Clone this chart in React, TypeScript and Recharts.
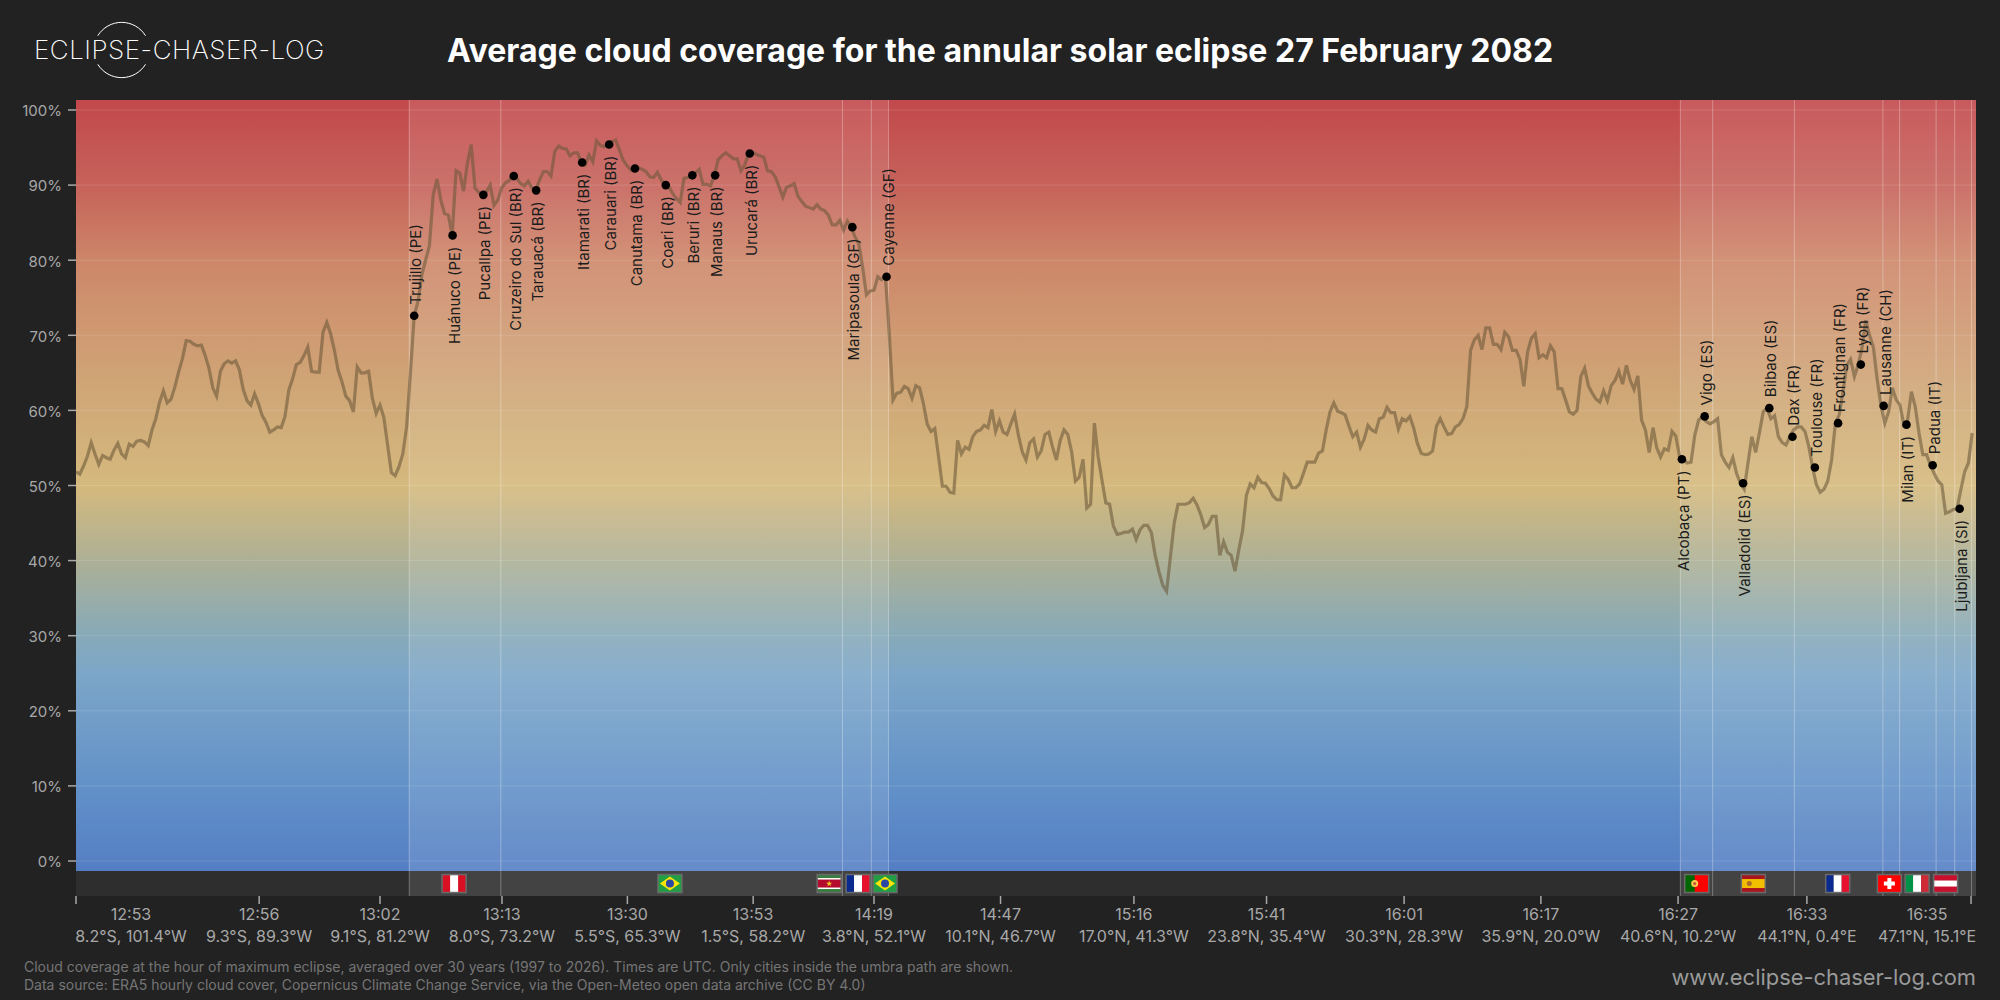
import {
  ComposedChart,
  Line,
  Scatter,
  XAxis,
  YAxis,
  ReferenceArea,
  ReferenceLine,
} from 'recharts';

// cloud cover in %, one reading every path sample, split by leg of the path
const pacificCover = [
  51.8, 51.5, 52.6, 53.9, 55.7, 54.2, 52.8, 54.0, 53.7, 53.5, 54.7, 55.6, 54.2, 53.7, 55.5, 55.2, 55.9, 56.0, 55.8, 55.3,
  57.4, 58.9, 61.1, 62.6, 61.0, 61.5, 63.1, 65.1, 66.9, 69.3, 69.2, 68.8, 68.6, 68.7, 67.3, 65.6, 63.0, 61.9, 65.2, 66.2,
  66.6, 66.3, 66.6, 65.4, 62.8, 61.3, 60.7, 62.2, 60.9, 59.3, 58.4, 57.1, 57.4, 57.8, 57.7, 59.2, 62.7, 64.2, 66.1, 66.4,
  67.3, 68.4, 65.2, 65.1, 65.1, 70.4, 71.7, 70.2, 68.0, 65.3, 63.8, 61.9, 61.3, 59.8, 65.8, 65.0, 65.0, 65.2, 61.6, 59.6,
  60.7, 59.1, 55.4, 51.7, 51.3, 52.5, 54.2, 57.8, 64.9,
];
const andesCover = [
  72.6, 74.5, 78.0, 80.0, 81.9, 88.7, 90.8, 88.0, 86.2, 86.0, 83.3, 91.9, 91.6, 89.2, 92.9, 95.4, 89.6, 89.0, 88.7, 89.1,
  90.0, 87.3,
];
const amazonCover = [
  88.0, 89.6, 90.3, 90.6, 91.2, 90.9, 90.2, 89.9, 90.5, 89.6, 89.3, 90.7, 91.8, 91.8, 91.2, 94.5, 95.2, 94.9, 94.8, 93.9,
  94.3, 94.3, 93.0, 92.7, 94.0, 93.1, 95.9, 95.3, 95.1, 95.4, 95.8, 96.0, 94.7, 93.3, 92.6, 92.0, 92.4, 92.3, 92.1, 91.8,
  91.1, 91.0, 91.7, 90.7, 90.0, 89.8, 88.9, 88.2, 87.7, 90.9, 91.0, 91.3, 91.6, 92.1, 90.1, 90.1, 89.9, 91.3, 93.4, 93.9,
  94.3, 93.9, 93.5, 93.5, 91.9, 92.7, 94.2, 94.4, 94.1, 93.9, 93.7, 91.9, 91.8, 91.1, 89.8, 88.4, 89.7, 89.9, 90.2, 88.5,
  87.8, 87.2, 87.0, 86.8, 87.4, 86.8, 86.6, 86.0, 84.7, 84.7, 85.3, 84.0, 85.2, 84.4, 83.1, 82.2, 79.1, 75.4, 75.9, 76.0,
  77.8, 77.4, 77.8,
];
const atlanticCover = [
  70.3, 61.4, 62.3, 62.4, 63.2, 62.9, 61.6, 63.3, 63.0, 60.9, 58.2, 57.2, 57.6, 53.8, 49.9, 49.9, 49.1, 49.0, 56.0, 54.2,
  55.1, 54.8, 56.5, 57.2, 57.4, 58.0, 57.7, 60.1, 57.2, 58.6, 57.1, 56.8, 58.2, 59.5, 56.7, 54.5, 53.4, 55.7, 56.2, 53.8,
  54.6, 56.8, 57.1, 55.1, 53.4, 56.0, 57.4, 56.8, 54.5, 50.6, 51.1, 53.5, 47.0, 47.5, 58.3, 53.8, 50.7, 47.7, 47.5, 44.6,
  43.5, 43.6, 43.8, 43.8, 44.2, 42.8, 44.1, 44.7, 44.7, 43.7, 40.7, 38.5, 36.7, 35.9, 40.5, 45.0, 47.5, 47.5, 47.5, 47.7,
  48.3, 47.4, 46.1, 44.4, 44.8, 45.9, 45.9, 40.7, 42.5, 41.1, 40.7, 38.6, 41.4, 44.0, 48.7, 50.2, 49.7, 51.1, 50.4, 50.3,
  49.6, 48.6, 48.1, 48.1, 51.4, 50.8, 49.7, 49.7, 50.2, 51.6, 53.1, 53.1, 53.1, 54.3, 54.6, 57.4, 59.8, 61.0, 59.9, 59.7,
  59.4, 57.9, 56.5, 57.1, 55.1, 56.2, 58.0, 57.4, 57.1, 58.9, 59.1, 60.4, 59.7, 59.7, 57.5, 58.9, 58.6, 59.2, 57.7, 55.6,
  54.3, 54.1, 54.2, 54.6, 57.9, 58.9, 57.8, 56.8, 56.9, 57.8,
];
const europeCover = [
  58.1, 58.9, 60.5, 68.0, 69.4, 70.0, 68.1, 71.0, 71.0, 68.8, 68.8, 68.1, 70.4, 69.8, 68.0, 68.0, 66.8, 63.2, 67.8, 69.6,
  70.2, 67.0, 67.4, 67.0, 68.6, 67.8, 62.9, 62.9, 61.4, 59.8, 59.5, 60.0, 64.5, 65.6, 63.3, 62.3, 61.5, 61.1, 62.6, 61.3,
  63.3, 64.0, 65.2, 63.5, 66.0, 64.0, 62.8, 64.6, 58.7, 57.4, 54.4, 57.7, 55.0, 53.8, 54.9, 54.7, 57.2, 56.6, 53.8, 53.5,
  53.0, 53.1, 56.7, 58.7, 59.2, 58.5, 58.2, 58.5, 58.9, 54.1, 53.1, 52.4, 53.7, 51.6, 50.3, 49.5, 53.0, 56.5, 54.4, 57.0,
  59.8, 60.3, 58.9, 59.3, 56.5, 55.7, 55.4, 56.5, 57.4, 57.8, 57.8, 57.2, 55.2, 52.4, 50.1, 49.1, 49.5, 50.6, 53.4, 58.3,
  59.4, 62.5, 66.0, 66.8, 64.5, 66.1, 68.3, 72.0, 70.0, 68.4, 64.1, 60.6, 58.3, 59.8, 63.0, 61.4, 60.7, 58.1, 58.7, 62.5,
  60.5, 57.0, 54.1, 54.1, 52.7, 51.6, 50.6, 50.1, 46.3, 46.5, 46.8, 46.9, 49.4, 51.8, 53.0, 57.0,
];

const cloudCover = [...pacificCover, ...andesCover, ...amazonCover, ...atlanticCover, ...europeCover];

const cityNames = [
  'Trujillo (PE)', 'Huánuco (PE)', 'Pucallpa (PE)', 'Cruzeiro do Sul (BR)', 'Tarauacá (BR)', 'Itamarati (BR)',
  'Carauari (BR)', 'Canutama (BR)', 'Coari (BR)', 'Beruri (BR)', 'Manaus (BR)', 'Urucará (BR)', 'Maripasoula (GF)',
  'Cayenne (GF)', 'Alcobaça (PT)', 'Vigo (ES)', 'Valladolid (ES)', 'Bilbao (ES)', 'Dax (FR)', 'Toulouse (FR)',
  'Frontignan (FR)', 'Lyon (FR)', 'Lausanne (CH)', 'Milan (IT)', 'Padua (IT)', 'Ljubljana (SI)',
];
const cityPathPos = [
  89.0, 99.1, 107.2, 115.2, 121.1, 133.2, 140.3, 147.1, 155.2, 162.2, 168.2, 177.3, 204.3, 213.3, 422.6, 428.6, 438.7,
  445.6, 451.7, 457.6, 463.7, 469.7, 475.7, 481.7, 488.6, 495.7,
];
const cityCover = [
  72.6, 83.3, 88.7, 91.2, 89.3, 93.0, 95.4, 92.2, 90.0, 91.3, 91.3, 94.2, 84.4, 77.8, 53.5, 59.2, 50.3, 60.3, 56.5, 52.4,
  58.3, 66.1, 60.6, 58.1, 52.7, 46.9,
];
const cityLabelUp = [
  true, false, false, false, false, false, false, false, false, false, false, false, false, true, false, true, false,
  true, true, true, true, true, true, false, true, false,
];

const flagCountries = ['PE', 'BR', 'SR', 'FR', 'BR', 'PT', 'ES', 'FR', 'CH', 'IT', 'AT'];
const flagPathPos = [99.5, 156.3, 198.2, 205.8, 212.9, 426.5, 441.4, 463.6, 477.2, 484.5, 492.0];

// where the umbra is over land, and the borders crossed
const landSpans = [[87.7, 213.8], [422.2, 500]];
const borderPos = [87.7, 111.8, 201.7, 209.3, 213.8, 422.2, 430.7, 452.2, 475.5, 479.9, 489.5, 494.4, 498.8];

const tickPos = [0, 48.2, 80, 112.1, 145.1, 178.2, 210, 243.3, 278.4, 313.3, 349.5, 385.5, 421.6, 455.5, 498.7];
const tickTimes = [
  '12:53', '12:56', '13:02', '13:13', '13:30', '13:53', '14:19', '14:47', '15:16', '15:41', '16:01', '16:17', '16:27',
  '16:33', '16:35',
];
const tickPlaces = [
  '8.2°S, 101.4°W', '9.3°S, 89.3°W', '9.1°S, 81.2°W', '8.0°S, 73.2°W', '5.5°S, 65.3°W', '1.5°S, 58.2°W', '3.8°N, 52.1°W',
  '10.1°N, 46.7°W', '17.0°N, 41.3°W', '23.8°N, 35.4°W', '30.3°N, 28.3°W', '35.9°N, 20.0°W', '40.6°N, 10.2°W',
  '44.1°N, 0.4°E', '47.1°N, 15.1°E',
];
const yTicks = [0, 10, 20, 30, 40, 50, 60, 70, 80, 90, 100];

const lineRows = cloudCover.map((cover, i) => ({ pos: i, cover }));
const cityRows = cityNames.map((name, i) => ({
  name,
  pos: cityPathPos[i],
  cover: cityCover[i],
  up: cityLabelUp[i],
}));
const flagRows = flagCountries.map((code, i) => ({ code, pos: flagPathPos[i], cover: -3 }));

const FONT = 'Inter, sans-serif';

function CityMark({ cx, cy, payload }: any) {
  const tx = cx + 1.5;
  const ty = payload.up ? cy - 11 : cy + 11;
  return (
    <g>
      <circle cx={cx} cy={cy} r={4.3} fill="#000" />
      <text
        x={tx}
        y={ty}
        transform={`rotate(-90 ${tx} ${ty})`}
        textAnchor={payload.up ? 'start' : 'end'}
        dominantBaseline="central"
        fontFamily={FONT}
        fontSize={15}
        fill="#1c1c1c"
      >
        {payload.name}
      </text>
    </g>
  );
}

function flagArt(code: string) {
  switch (code) {
    case 'PE':
      return (
        <>
          <rect width={24} height={18} fill="#d91023" />
          <rect x={8} width={8} height={18} fill="#fff" />
        </>
      );
    case 'BR':
      return (
        <>
          <rect width={24} height={18} fill="#229e45" />
          <polygon points="12,2 22,9 12,16 2,9" fill="#f8e509" />
          <circle cx={12} cy={9} r={4} fill="#2b49a3" />
        </>
      );
    case 'SR':
      return (
        <>
          <rect width={24} height={18} fill="#377e3f" />
          <rect y={3.5} width={24} height={11} fill="#fff" />
          <rect y={5} width={24} height={8} fill="#b40a2d" />
          <polygon points="12,6 12.8,8.2 15,8.2 13.2,9.6 13.9,11.8 12,10.4 10.1,11.8 10.8,9.6 9,8.2 11.2,8.2" fill="#ecc81d" />
        </>
      );
    case 'FR':
      return (
        <>
          <rect width={8} height={18} fill="#0a2a8f" />
          <rect x={8} width={8} height={18} fill="#fff" />
          <rect x={16} width={8} height={18} fill="#e8112d" />
        </>
      );
    case 'PT':
      return (
        <>
          <rect width={24} height={18} fill="#ff0000" />
          <rect width={10} height={18} fill="#006600" />
          <circle cx={10} cy={9} r={3.5} fill="#ffcc4d" />
          <circle cx={10} cy={9} r={1.6} fill="#c8553d" />
        </>
      );
    case 'ES':
      return (
        <>
          <rect width={24} height={18} fill="#aa151b" />
          <rect y={4.5} width={24} height={9} fill="#f1bf00" />
          <circle cx={8} cy={9} r={2.5} fill="#ad6b2b" />
        </>
      );
    case 'CH':
      return (
        <>
          <rect width={24} height={18} fill="#ff0000" />
          <rect x={10} y={3.5} width={4} height={11} fill="#fff" />
          <rect x={6.5} y={7} width={11} height={4} fill="#fff" />
        </>
      );
    case 'IT':
      return (
        <>
          <rect width={8} height={18} fill="#009246" />
          <rect x={8} width={8} height={18} fill="#fff" />
          <rect x={16} width={8} height={18} fill="#ce2b37" />
        </>
      );
    default:
      return (
        <>
          <rect width={24} height={18} fill="#c8102e" />
          <rect y={6} width={24} height={6} fill="#fff" />
        </>
      );
  }
}

function FlagMark({ cx, cy, payload }: any) {
  return (
    <g transform={`translate(${cx - 12} ${cy - 9})`}>
      {flagArt(payload.code)}
      <rect width={24} height={18} fill="none" stroke="#6a6a6a" strokeWidth={1.5} />
    </g>
  );
}

function PlaceTick({ x, y, index }: any) {
  // first and last labels are pushed inside the plot width
  const last = tickPos.length - 1;
  const shift = index === 0 ? 55 : index === last ? -44 : 0;
  return (
    <text x={x + shift} textAnchor="middle" fontFamily={FONT} fontSize={16} fill="#a8a8a8">
      <tspan x={x + shift} y={y + 14}>{tickTimes[index]}</tspan>
      <tspan x={x + shift} y={y + 36}>{tickPlaces[index]}</tspan>
    </text>
  );
}

function Logo() {
  return (
    <div style={{ position: 'absolute', left: 34, top: 20, width: 300, height: 60 }}>
      <svg width={300} height={60} style={{ position: 'absolute', left: 0, top: 0 }}>
        <path d="M63.8 15.7 A28 28 0 0 1 111.5 15.7" fill="none" stroke="#fff" strokeWidth={1} />
        <path d="M63.8 44.3 A28 28 0 0 0 111.5 44.3" fill="none" stroke="#fff" strokeWidth={1} />
      </svg>
      <div
        style={{
          position: 'absolute',
          left: 0,
          top: 14,
          fontFamily: FONT,
          fontWeight: 200,
          fontSize: 26,
          lineHeight: '32px',
          letterSpacing: 0.5,
          color: '#fff',
          whiteSpace: 'nowrap',
        }}
      >
        ECLIPSE-CHASER-LOG
      </div>
    </div>
  );
}

export default function App() {
  return (
    <div style={{ position: 'fixed', left: 0, top: 0, width: 2000, height: 1000, background: '#222222', overflow: 'hidden' }}>
      <Logo />
      <div
        style={{
          position: 'absolute',
          left: 0,
          top: 28,
          width: 2000,
          textAlign: 'center',
          fontFamily: FONT,
          fontWeight: 700,
          fontSize: 32,
          lineHeight: '46px',
          color: '#fff',
        }}
      >
        Average cloud coverage for the annular solar eclipse 27 February 2082
      </div>
      <ComposedChart
        width={2000}
        height={1000}
        data={lineRows}
        margin={{ top: 100, right: 24, bottom: 44, left: 0 }}
        style={{ position: 'absolute', left: 0, top: 0 }}
      >
        <defs>
          <linearGradient id="skyBand" x1="0" y1="0" x2="0" y2="1">
            <stop offset="0" stopColor="#c2484b" />
            <stop offset="0.11" stopColor="#c6625a" />
            <stop offset="0.207" stopColor="#cd8669" />
            <stop offset="0.305" stopColor="#cf9a72" />
            <stop offset="0.4" stopColor="#d0aa78" />
            <stop offset="0.5" stopColor="#d5b97d" />
            <stop offset="0.6" stopColor="#acb096" />
            <stop offset="0.695" stopColor="#87aab9" />
            <stop offset="0.743" stopColor="#7ca6c8" />
            <stop offset="0.89" stopColor="#6291c8" />
            <stop offset="1" stopColor="#547ec4" />
          </linearGradient>
        </defs>
        <XAxis
          dataKey="pos"
          type="number"
          domain={[0, 500]}
          ticks={tickPos}
          interval={0}
          height={60}
          axisLine={false}
          tickSize={8}
          tickLine={{ stroke: '#a8a8a8', strokeWidth: 1.5 }}
          tick={<PlaceTick />}
        />
        <YAxis
          type="number"
          width={76}
          domain={[-4.66, 101.33]}
          ticks={yTicks}
          interval={0}
          allowDataOverflow
          axisLine={false}
          tickSize={8}
          tickMargin={6}
          tickLine={{ stroke: '#a8a8a8', strokeWidth: 1.5 }}
          tickFormatter={(v: number) => `${v}%`}
          tick={{ fill: '#a8a8a8', fontFamily: FONT, fontSize: 15, dy: 1 }}
        />
        <ReferenceArea y1={-1.33} y2={101.33} fill="url(#skyBand)" fillOpacity={1} stroke="none" />
        <ReferenceArea y1={-4.66} y2={-1.33} fill="#2e2e2e" fillOpacity={1} stroke="none" />
        {landSpans.map(([from, to]) => (
          <ReferenceArea key={from} x1={from} x2={to} fill="#fff" fillOpacity={0.1} stroke="none" />
        ))}
        {yTicks.map((v) => (
          <ReferenceLine key={v} y={v} stroke="#fff" strokeOpacity={0.13} strokeWidth={1} />
        ))}
        {borderPos.map((p) => (
          <ReferenceLine key={p} x={p} stroke="#fff" strokeOpacity={0.3} strokeWidth={1} />
        ))}
        <Line
          dataKey="cover"
          type="linear"
          stroke="#6a5838"
          strokeOpacity={0.58}
          strokeWidth={3.2}
          dot={false}
          activeDot={false}
          isAnimationActive={false}
        />
        <Scatter data={flagRows} dataKey="cover" shape={<FlagMark />} isAnimationActive={false} />
        <Scatter data={cityRows} dataKey="cover" shape={<CityMark />} isAnimationActive={false} />
      </ComposedChart>
      <div
        style={{
          position: 'absolute',
          left: 24,
          top: 958,
          fontFamily: FONT,
          fontSize: 14,
          lineHeight: '18px',
          color: '#757575',
          whiteSpace: 'nowrap',
        }}
      >
        Cloud coverage at the hour of maximum eclipse, averaged over 30 years (1997 to 2026). Times are UTC. Only cities inside the umbra path are shown.
        <br />
        Data source: ERA5 hourly cloud cover, Copernicus Climate Change Service, via the Open-Meteo open data archive (CC BY 4.0)
      </div>
      <div
        style={{
          position: 'absolute',
          right: 24,
          top: 962,
          fontFamily: FONT,
          fontSize: 21.9,
          lineHeight: '30px',
          color: '#9a9a9a',
          whiteSpace: 'nowrap',
        }}
      >
        www.eclipse-chaser-log.com
      </div>
    </div>
  );
}
